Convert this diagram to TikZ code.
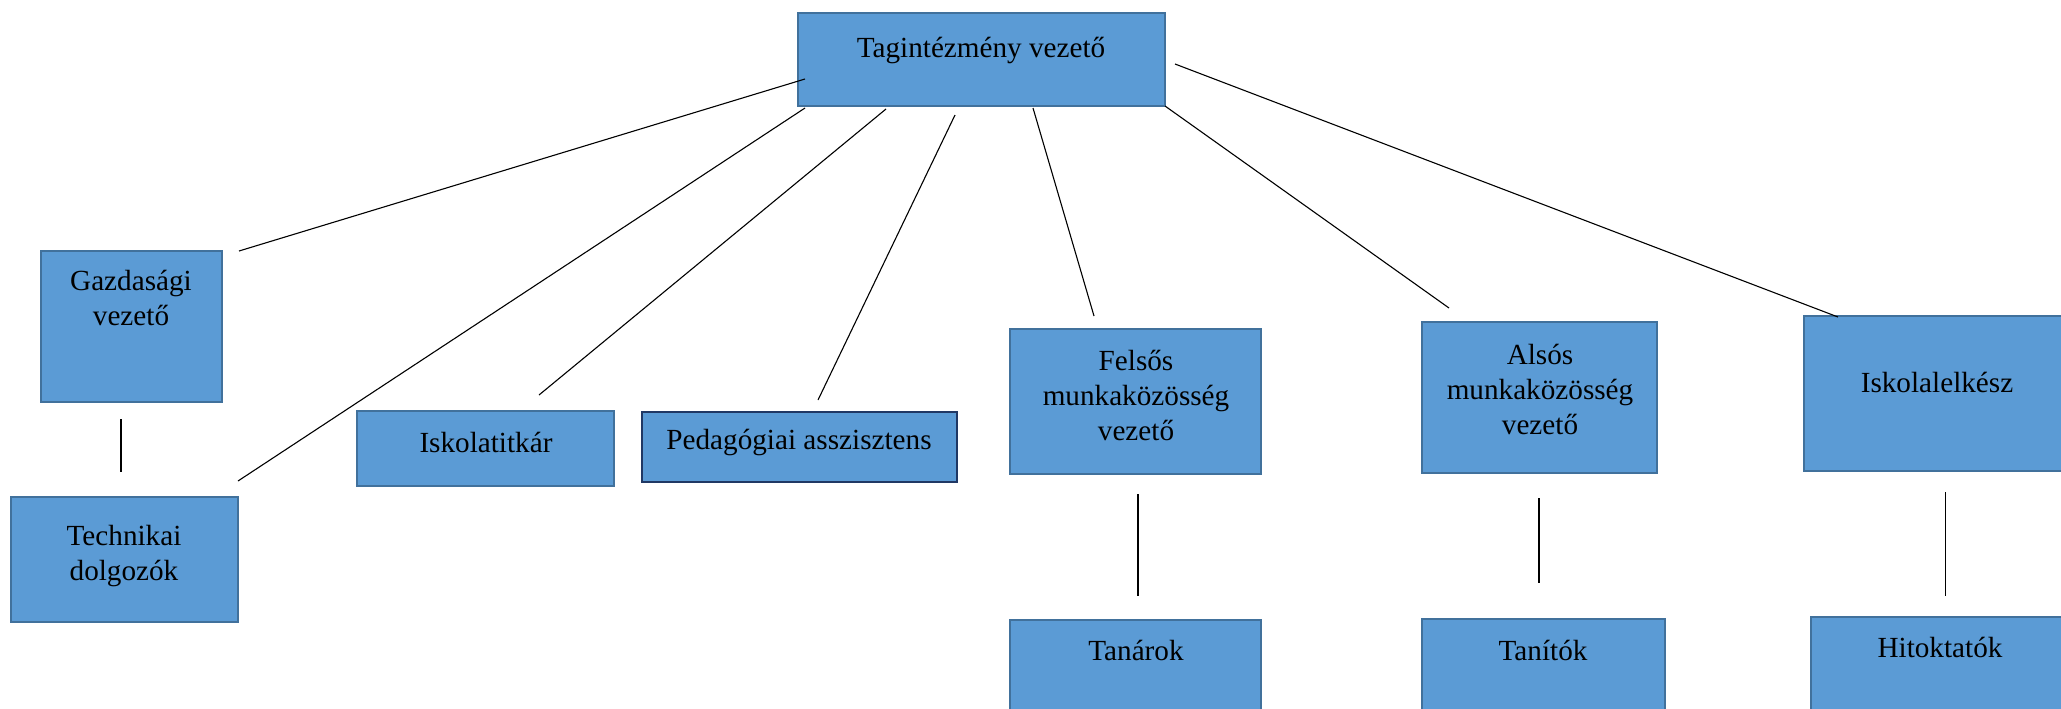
\documentclass[tikz,border=0pt]{standalone}
\usepackage{fontspec}
\setmainfont{Liberation Serif}
\usetikzlibrary{fit}
\definecolor{boxfill}{HTML}{5B9BD5}
\definecolor{boxline}{HTML}{41719C}
\definecolor{darkline}{HTML}{203864}
\begin{document}
\begin{tikzpicture}[x=0.5pt,y=-0.5pt,
  orgbox/.style={draw=boxline, fill=boxfill, line width=1pt, inner sep=0pt, rectangle},
  darkbox/.style={orgbox, draw=darkline, line width=1.3pt},
  txt/.style={font=\fontsize{14.6pt}{17.5pt}\selectfont, align=center, inner sep=0pt, text=black},
  conn/.style={draw=black, line width=0.55pt}]
\useasboundingbox (0,0) rectangle (2061,708);
\clip (0,0) rectangle (2061,708);
% boxes
\node[orgbox, fit={(798,13) (1165,106)}] (top) {};
\node[orgbox, fit={(41,251) (222,402)}] (gazd) {};
\node[orgbox, fit={(11,497) (238,622)}] (tech) {};
\node[orgbox, fit={(357,411) (614,486)}] (isk) {};
\node[darkbox, fit={(642,412) (957,482)}] (ped) {};
\node[orgbox, fit={(1010,329) (1261,474)}] (fels) {};
\node[orgbox, fit={(1422,322) (1657,473)}] (als) {};
\node[orgbox, fit={(1804,316) (2075,471)}] (lelk) {};
\node[orgbox, fit={(1010,620) (1261,730)}] (tanar) {};
\node[orgbox, fit={(1422,619) (1665,730)}] (tanit) {};
\node[orgbox, fit={(1811,617) (2075,730)}] (hit) {};
% texts
\node[txt] (topt) at (981,50) {Tagintézmény vezető};
\node[txt] (gazdt) at (131,298) {Gazdasági\\vezető};
\node[txt] (techt) at (124,556) {Technikai\\dolgozók};
\node[txt] (iskt) at (486,442) {Iskolatitkár};
\node[txt] (pedt) at (799,442) {Pedagógiai asszisztens};
\node[txt] (felst) at (1136,395) {Felsős\\munkaközösség\\vezető};
\node[txt] (alst) at (1540,389) {Alsós\\munkaközösség\\vezető};
\node[txt] (lelkt) at (1937,382) {Iskolalelkész};
\node[txt] (tanart) at (1136,650) {Tanárok};
\node[txt] (tanitt) at (1543,650) {Tanítók};
\node[txt] (hitt) at (1940,647) {Hitoktatók};
% connector end points
\coordinate (a1) at (805,79);   \coordinate (b1) at (239,251);
\coordinate (a2) at (805,108);  \coordinate (b2) at (238,481);
\coordinate (a3) at (886,109);  \coordinate (b3) at (539,395);
\coordinate (a4) at (955,115);  \coordinate (b4) at (818,400);
\coordinate (a5) at (1033,108); \coordinate (b5) at (1094,316);
\coordinate (a6) at (1165,106); \coordinate (b6) at (1449,308);
\coordinate (a7) at (1175,64);  \coordinate (b7) at (1838,317);
\coordinate (a8) at (121,419);  \coordinate (b8) at (121,472);
\coordinate (a9) at (1138,494); \coordinate (b9) at (1138,596);
\coordinate (a10) at (1539,498); \coordinate (b10) at (1539,583);
\coordinate (a11) at (1945.5,492); \coordinate (b11) at (1945.5,596);
\foreach \i in {1,...,11} {\draw[conn] (a\i) -- (b\i);}
\end{tikzpicture}
\end{document}
